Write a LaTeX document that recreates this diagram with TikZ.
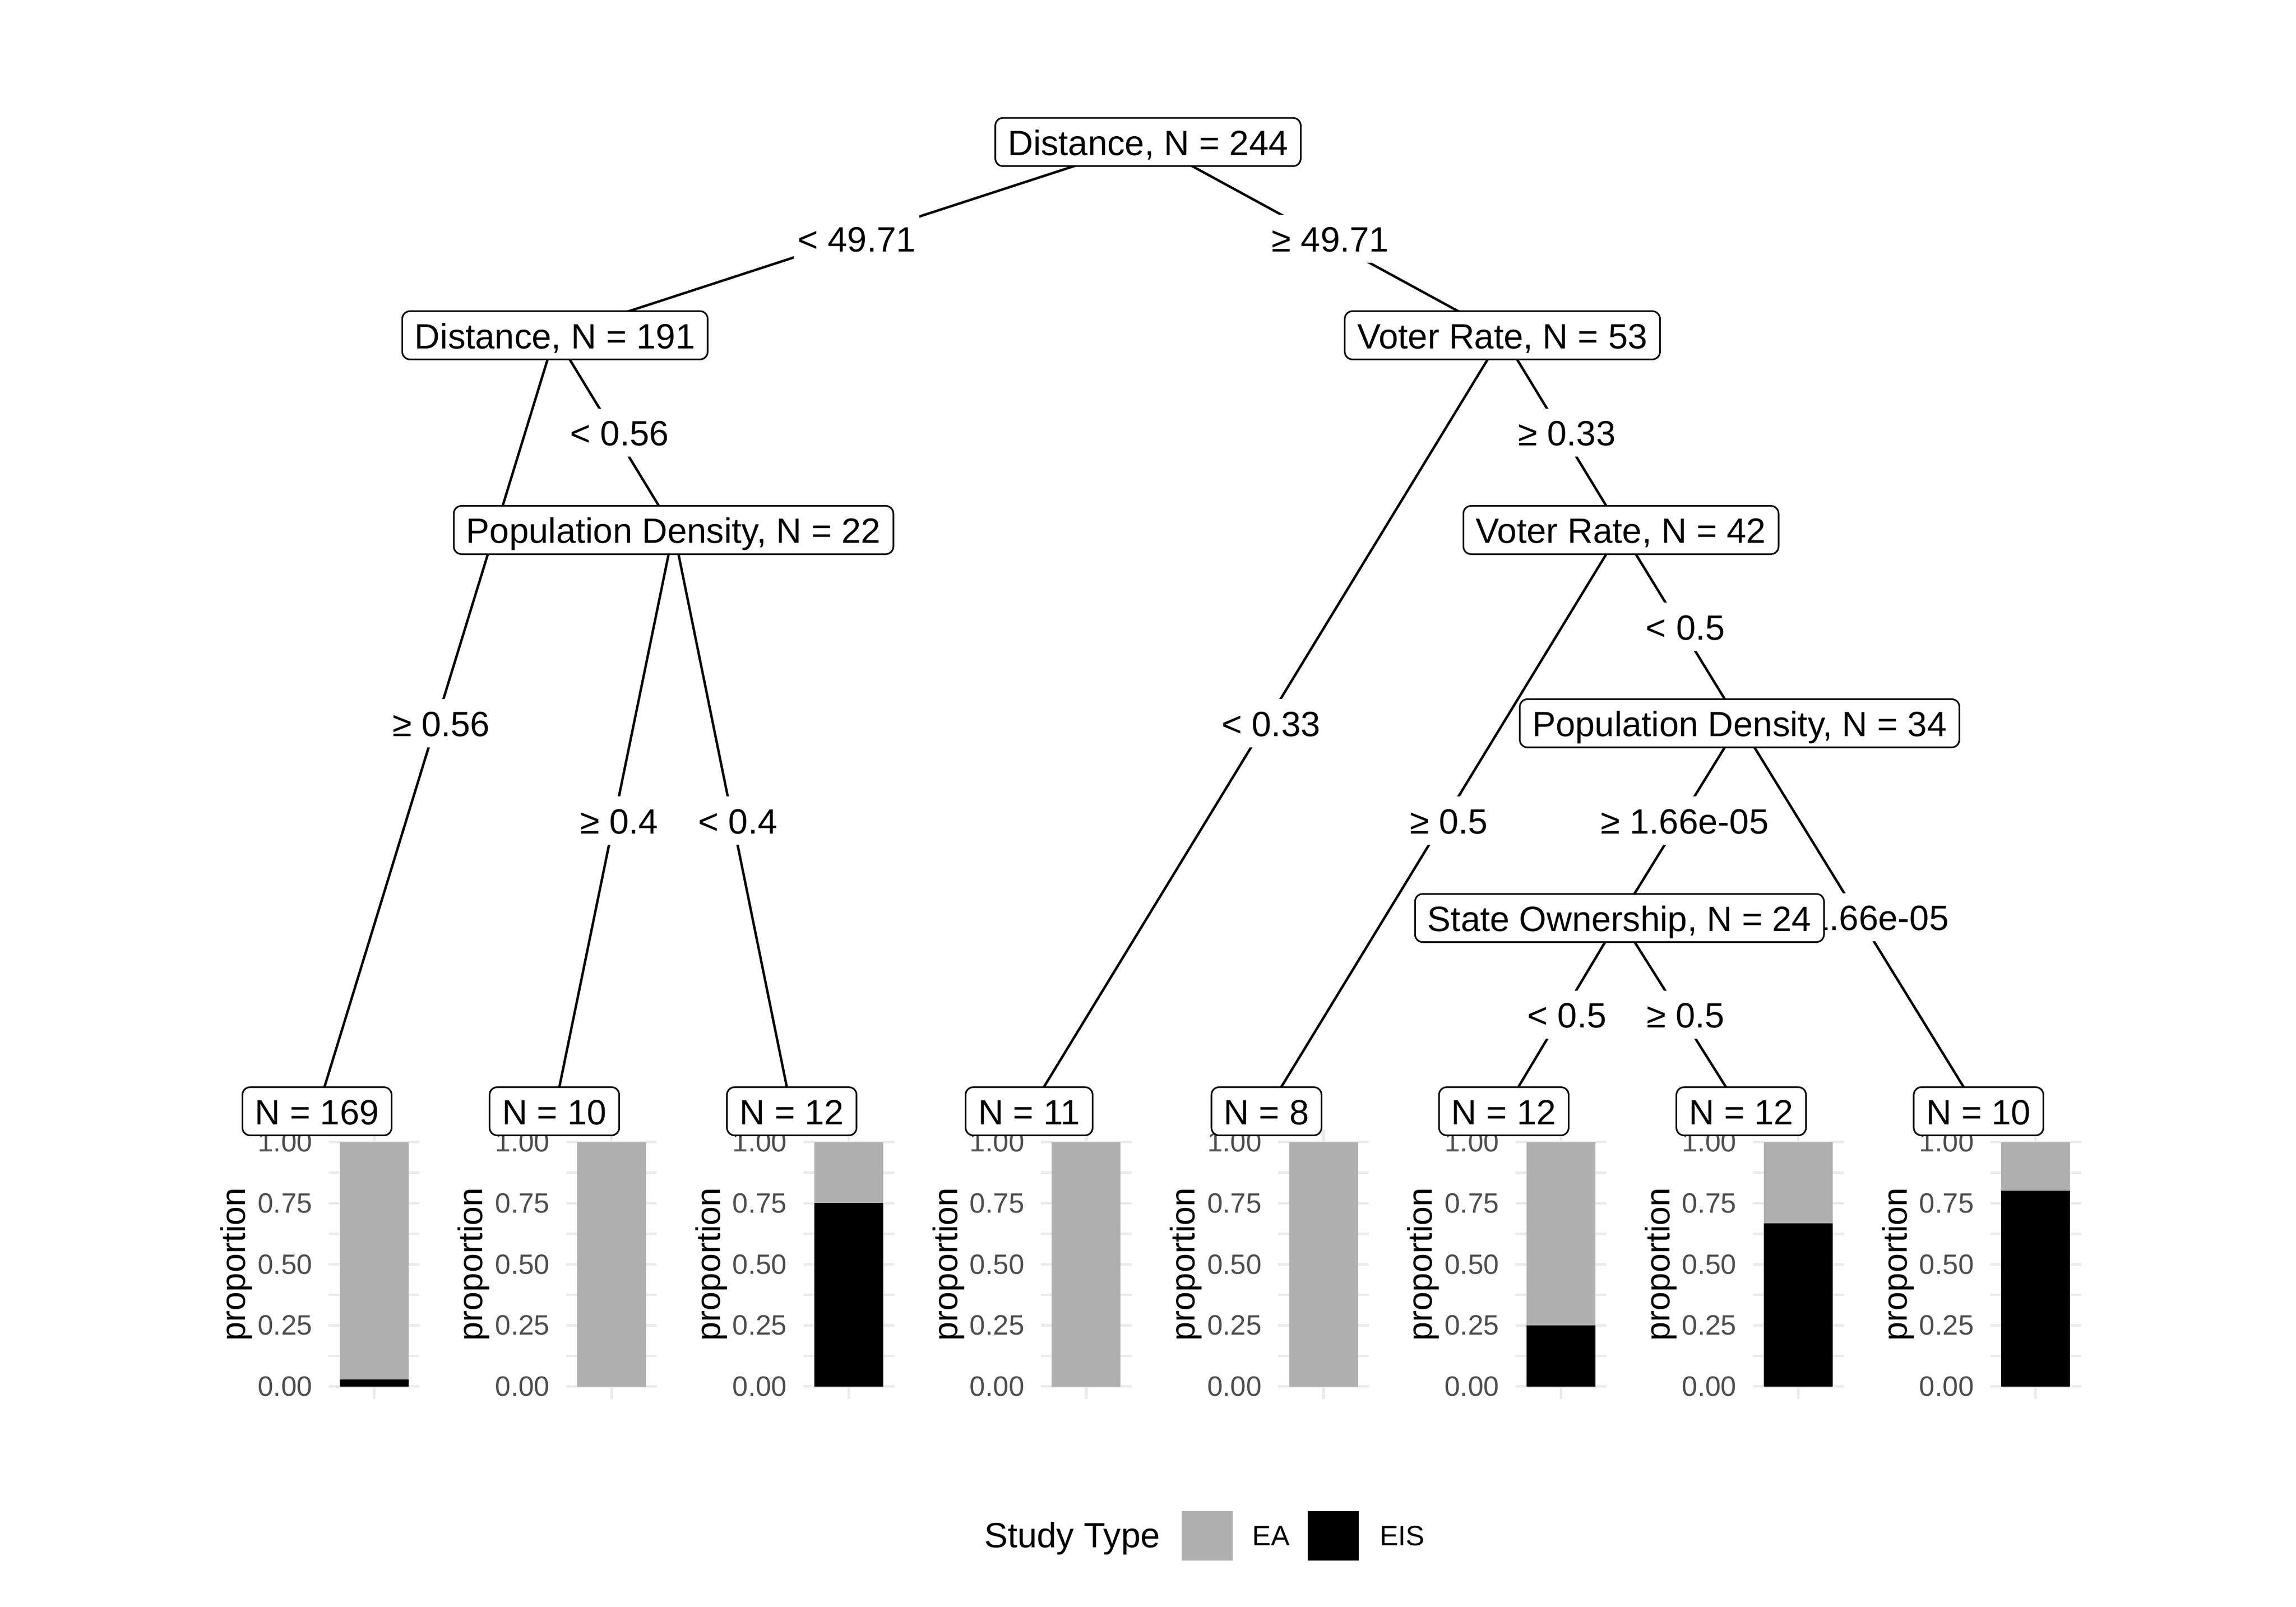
\documentclass[tikz,border=0pt]{standalone}
\usepackage{fontspec}
\setmainfont{Liberation Sans}
\pgfdeclarelayer{edges}
\pgfdeclarelayer{elabels}
\pgfsetlayers{edges,elabels,main}
\definecolor{eagray}{RGB}{176,176,176}
\definecolor{gridgray}{RGB}{235,235,235}
\definecolor{tickgray}{RGB}{77,77,77}
\newcommand\leafplot[2]{%
  \foreach \v in {0.125,0.375,0.625,0.875}
    \draw[gridminor] ({#1-31},{947-167*\v}) -- ({#1+31},{947-167*\v});
  \foreach \v in {0,0.25,0.5,0.75,1}
    \draw[gridmajor] ({#1-31},{947-167*\v}) -- ({#1+31},{947-167*\v});
  \draw[gridmajor] (#1,771.6) -- (#1,955.4);
  \fill[eagray] ({#1-23.5},947) rectangle ({#1+23.5},780);
  \fill[black] ({#1-23.5},947) rectangle ({#1+23.5},{947-167*#2});
  \foreach \v/\lab in {0/0.00,0.25/0.25,0.5/0.50,0.75/0.75,1/1.00}
    \node[ticklab] at ({#1-42},{947-167*\v}) {\lab};
  \node[axtitle] at ({#1-94},863.5) {proportion};
}
\begin{document}
\begin{tikzpicture}[x=0.028699cm,y=-0.028699cm,
  every node/.style={font=\fontsize{19.6}{23}\selectfont},
  tnode/.style={draw=black, line width=0.9pt, fill=white, rounded corners=4.3pt,
    inner xsep=7pt, inner ysep=0pt, text height=20.8pt, text depth=6.1pt},
  elabel/.style={fill=white, inner xsep=2pt, inner ysep=0pt, text height=20.8pt, text depth=6.1pt, xshift=2.9pt},
  edgeline/.style={line width=1.35pt},
  gridmajor/.style={draw=gridgray, line width=1.5pt},
  gridminor/.style={draw=gridgray, line width=1.3pt},
  ticklab/.style={anchor=east, inner sep=0pt, text=tickgray, font=\fontsize{15.6}{18}\selectfont},
  axtitle/.style={rotate=90, inner sep=0pt, font=\fontsize{19}{23}\selectfont},
  legtext/.style={anchor=base west, inner sep=0pt, font=\fontsize{15.6}{18}\selectfont}]
\useasboundingbox (0,0) rectangle (1568,1097.6);

% leaf plots
\leafplot{255.5}{0.0296}
\leafplot{417.6}{0}
\leafplot{579.7}{0.75}
\leafplot{741.8}{0}
\leafplot{903.9}{0}
\leafplot{1066.0}{0.25}
\leafplot{1228.1}{0.6667}
\leafplot{1390.2}{0.8}

% tree nodes
\node[tnode] (n1) at (784,97) {Distance, N = 244};
\node[tnode] (n2) at (379,229) {Distance, N = 191};
\node[tnode] (n3) at (1026,229) {Voter Rate, N = 53};
\node[tnode] (n4) at (460,362) {Population Density, N = 22};
\node[tnode] (n5) at (1107,362) {Voter Rate, N = 42};
\node[tnode] (n6) at (1188,494) {Population Density, N = 34};
\node[tnode] (n7) at (1106,627) {State Ownership, N = 24};
\node[tnode] (l1) at (216.5,759) {N = 169};
\node[tnode] (l2) at (378.6,759) {N = 10};
\node[tnode] (l3) at (540.7,759) {N = 12};
\node[tnode] (l4) at (702.8,759) {N = 11};
\node[tnode] (l5) at (864.9,759) {N = 8};
\node[tnode] (l6) at (1027.0,759) {N = 12};
\node[tnode] (l7) at (1189.1,759) {N = 12};
\node[tnode] (l8) at (1351.2,759) {N = 10};

\begin{pgfonlayer}{edges}
\foreach \a/\b in {n1/n2,n1/n3,n2/l1,n2/n4,n4/l2,n4/l3,n3/l4,n3/n5,n5/l5,n5/n6,n6/n7,n6/l8,n7/l6,n7/l7}
  \draw[edgeline] (\a.center) -- (\b.center);
\end{pgfonlayer}

\begin{pgfonlayer}{elabels}
\path (n1.center) -- node[elabel] (e1) {< 49.71} (n2.center);
\path (n1.center) -- node[elabel] (e2) {≥ 49.71} (n3.center);
\path (n2.center) -- node[elabel] (e3) {≥ 0.56} (l1.center);
\path (n2.center) -- node[elabel] (e4) {< 0.56} (n4.center);
\path (n4.center) -- node[elabel] (e5) {≥ 0.4} (l2.center);
\path (n4.center) -- node[elabel] (e6) {< 0.4} (l3.center);
\path (n3.center) -- node[elabel] (e7) {< 0.33} (l4.center);
\path (n3.center) -- node[elabel] (e8) {≥ 0.33} (n5.center);
\path (n5.center) -- node[elabel] (e9) {≥ 0.5} (l5.center);
\path (n5.center) -- node[elabel] (e10) {< 0.5} (n6.center);
\path (n6.center) -- node[elabel] (e11) {≥ 1.66e-05} (n7.center);
\path (n6.center) -- node[elabel] (e12) {< 1.66e-05} (l8.center);
\path (n7.center) -- node[elabel] (e13) {< 0.5} (l6.center);
\path (n7.center) -- node[elabel] (e14) {≥ 0.5} (l7.center);
\end{pgfonlayer}

% legend
\node[anchor=base west, inner sep=0pt] (legtitle) at (672,1057) {Study Type};
\fill[eagray] (807,1032) rectangle (842,1066);
\node[legtext] (legea) at (855,1055.5) {EA};
\fill[black] (893,1032) rectangle (928,1066);
\node[legtext] (legeis) at (942,1055.5) {EIS};
\end{tikzpicture}
\end{document}
